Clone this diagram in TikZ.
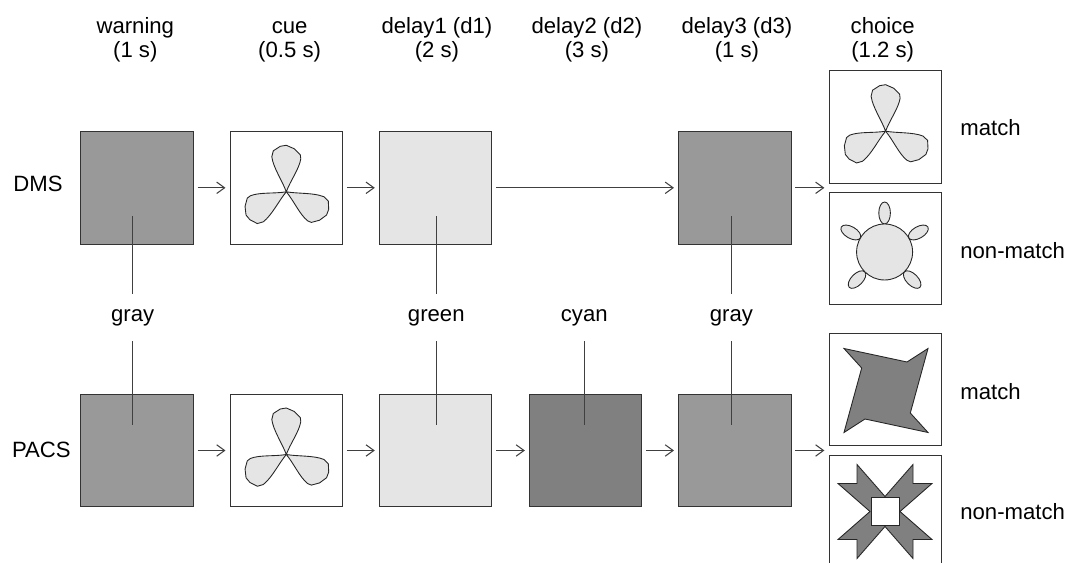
\documentclass[tikz,border=0pt]{standalone}
\usepackage{fontspec}
\setmainfont{Liberation Sans}
\usetikzlibrary{positioning,arrows.meta,calc}

% one leaf of the three-leaf cue, pointing up from the centre
\newcommand{\trefoil}[1]{%
  \begin{scope}[shift={($(#1)+(0,4)$)}]
    \foreach \r in {0,120,240}
      \filldraw[leaf, rotate=\r] (0,0) .. controls (-4,-11) and (-13,-24) .. (-14.5,-35)
        -- (-13,-41) -- (-6,-45.5) -- (0,-46.5) -- (8,-43) -- (14,-37) -- (14.5,-33)
        .. controls (13,-23) and (4,-11) .. (0,0);
  \end{scope}}

\begin{document}
\begin{tikzpicture}[x=0.02cm, y=-0.02cm,
    font=\fontsize{12.6}{13.6}\selectfont,
    >={Straight Barb[length=4.5pt,width=6.5pt]},
    box/.style={draw=black!80, line width=0.6pt, minimum size=2.25cm, inner sep=0pt},
    head/.style={anchor=south, inner sep=0pt, align=center},
    tag/.style={anchor=base, inner sep=0pt, text height=0.544cm, text depth=0.39cm},
    side/.style={anchor=base west, inner sep=0pt},
    flow/.style={->, draw=black!75, line width=0.6pt, shorten <=2.2pt, shorten >=2.3pt},
    stem/.style={draw=black!75, line width=0.6pt},
    leaf/.style={fill=black!10, draw=black!85, line width=0.5pt},
    shade/.style={fill=black!50, draw=black!85, line width=0.5pt}]

        \useasboundingbox (0,0) rectangle (1066,563);

        % column heads
        \node[head] (hwarn) at (135.3,62) {warning\\(1 s)};
        \node[head] (hcue) at (289.6,62) {cue\\(0.5 s)};
        \node[head] (hdone) at (437,62) {delay1 (d1)\\(2 s)};
        \node[head] (hdtwo) at (587,62) {delay2 (d2)\\(3 s)};
        \node[head] (hdthree) at (737,62) {delay3 (d3)\\(1 s)};
        \node[head] (hchoice) at (882.7,62) {choice\\(1.2 s)};

        \node (dms) at (38,184) {DMS};
        \node (pacs) at (41.4,449.5) {PACS};

        % DMS row
        \node[box, fill=black!40] (warnD) at (137,187.8) {};
        \node[box, fill=white] (cueD) at (286.3,187.8) {};
        \node[box, fill=black!10] (doneD) at (435.6,187.8) {};
        \node[box, fill=black!40] (dthreeD) at (734.8,187.8) {};
        \node[box, fill=white] (matchD) at (885.6,127.2) {};
        \node[box, fill=white] (nonD) at (885.6,248.3) {};
        \coordinate (gapD) at (829.3,187.8);

        % PACS row
        \node[box, fill=black!40] (warnP) at (137,450.5) {};
        \node[box, fill=white] (cueP) at (286.3,450.5) {};
        \node[box, fill=black!10] (doneP) at (435.6,450.5) {};
        \node[box, fill=black!50] (dtwoP) at (585.7,450.5) {};
        \node[box, fill=black!40] (dthreeP) at (734.8,450.5) {};
        \node[box, fill=white] (matchP) at (885.6,389.5) {};
        \node[box, fill=white] (nonP) at (885.6,511.5) {};
        \coordinate (gapP) at (829.3,450.5);

        \draw[flow] (warnD) -- (cueD);
        \draw[flow] (cueD) -- (doneD);
        \draw[flow] (doneD) -- (dthreeD);
        \draw[flow, shorten >=2.8pt] (dthreeD) -- (gapD);

        \draw[flow] (warnP) -- (cueP);
        \draw[flow] (cueP) -- (doneP);
        \draw[flow] (doneP) -- (dtwoP);
        \draw[flow] (dtwoP) -- (dthreeP);
        \draw[flow, shorten >=2.8pt] (dthreeP) -- (gapP);

        % colour tags
        \node[tag] (tgrayA) at (132.7,321.2) {gray};
        \node[tag] (tgreen) at (436.3,321.2) {green};
        \node[tag] (tcyan) at (584.3,321.2) {cyan};
        \node[tag] (tgrayB) at (731.4,321.2) {gray};

        \draw[stem] (tgrayA.north) -- ++(0,-78);
        \draw[stem] (tgreen.north) -- ++(0,-78);
        \draw[stem] (tgrayB.north) -- ++(0,-78);
        \draw[stem] (tgrayA.south) -- ++(0,84);
        \draw[stem] (tgreen.south) -- ++(0,84);
        \draw[stem] (tcyan.south) -- ++(0,84);
        \draw[stem] (tgrayB.south) -- ++(0,84);

        \node[side] (smatchD) at (960,135.5) {match};
        \node[side] (snonD) at (960,258.3) {non-match};
        \node[side] (smatchP) at (960,399.3) {match};
        \node[side] (snonP) at (960,520) {non-match};

        % samples
        \trefoil{cueD}
        \trefoil{cueP}
        \trefoil{matchD}

        \begin{scope}[shift={($(nonD)+(-1,3.7)$)}]
            \foreach \a in {90,30,150,225,315}
                \filldraw[leaf, shift={({39*cos(\a)},{-39*sin(\a)})}, rotate=\a] (0,0) ellipse (11 and 5.8);
            \filldraw[leaf] (0,0) circle (28);
        \end{scope}

        \begin{scope}[shift={($(matchP)+(0.4,1)$)}]
            \filldraw[shade] (-42,-42) -- (21,-28.5) -- (42,-42) -- (24.3,22.5) -- (42,42)
                -- (-21,28.5) -- (-42,42) -- (-24.3,-22.5) -- cycle;
        \end{scope}

        \begin{scope}[shift={($(nonP)+(-0.6,0)$)}]
            \filldraw[shade] (0,-15) -- (28,-47) -- (28,-28) -- (47,-28) -- (15,0) -- (47,28)
                -- (28,28) -- (28,47) -- (0,15) -- (-28,47) -- (-28,28) -- (-47,28)
                -- (-15,0) -- (-47,-28) -- (-28,-28) -- (-28,-47) -- cycle;
            \filldraw[fill=white, draw=black!85, line width=0.5pt] (-14,-14) rectangle (14,14);
        \end{scope}

    \end{tikzpicture}
\end{document}
